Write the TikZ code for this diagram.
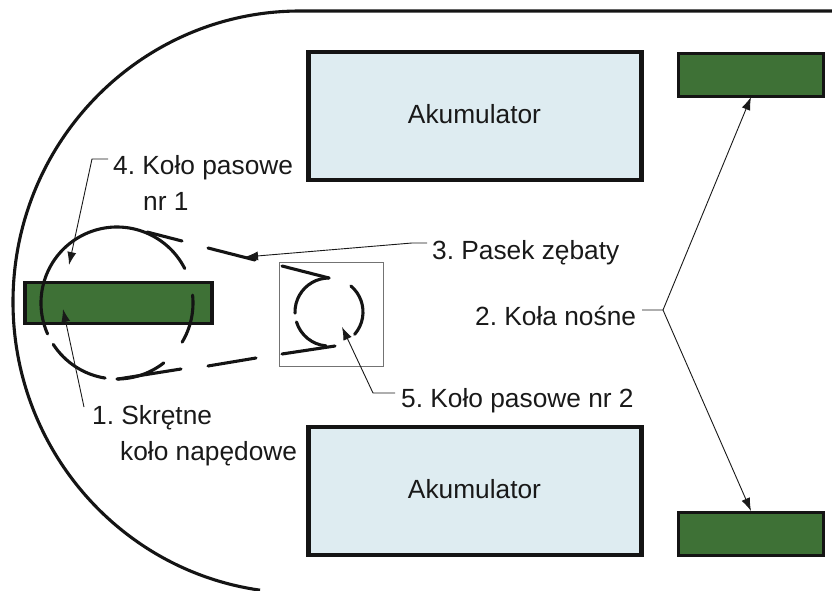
\documentclass[tikz,border=0pt]{standalone}
\usepackage{fontspec}
\setmainfont{Liberation Sans}
\usetikzlibrary{arrows.meta}
\definecolor{akublue}{RGB}{222,236,241}
\definecolor{wheelgreen}{RGB}{62,113,54}
\tikzset{
  battery/.style={draw=black!92,line width=4.2pt,fill=akublue,inner sep=0pt},
  wheel/.style={draw=black!92,line width=3.2pt,fill=wheelgreen,inner sep=0pt},
  belt/.style={line width=3.1pt,black!92,line cap=round},
  leader/.style={line width=0.9pt,black!90,-{Latex[length=13pt,width=9pt]}},
  label/.style={font=\fontsize{26.3}{27}\selectfont,anchor=base west,inner sep=0pt,text=black!90}
}
\begin{document}
\frenchspacing
\begin{tikzpicture}[x=1pt,y=-1pt]
\useasboundingbox (0,0) rectangle (832,591);
% chassis outline
\draw[line width=3.1pt,black!92] (832,11) -- (300,11) arc[start angle=-90,end angle=-262,x radius=287,y radius=291];
% batteries
\node[battery,minimum width=333pt,minimum height=128pt] (batA) at (475,116) {};
\node[battery,minimum width=333pt,minimum height=128pt] (batB) at (475,491) {};
\node[label,anchor=base] at (474.5,124) {Akumulator};
\node[label,anchor=base] at (474.5,498) {Akumulator};
% wheels
\node[wheel,minimum width=145pt,minimum height=43pt] (wheelA) at (751,75) {};
\node[wheel,minimum width=145pt,minimum height=43pt] (wheelB) at (751,534) {};
\node[wheel,minimum width=187pt,minimum height=41pt] (drive) at (118.5,303) {};
% pulley 1
\coordinate (pa) at (117,303);
\draw[belt] (pa) ++(-204:76) arc[start angle=-204,end angle=-27,radius=76];
\draw[belt] (pa) ++(-6:76) arc[start angle=-6,end angle=31,radius=76];
\draw[belt] (pa) ++(-213:76) arc[start angle=-213,end angle=-261,radius=76];
\draw[belt] (pa) ++(-270:76) arc[start angle=-270,end angle=-308,radius=76];
% belt
\coordinate (ba) at (147,232);
\coordinate (bb) at (182,241);
\coordinate (bc) at (208,248);
\coordinate (bd) at (255,260);
\coordinate (be) at (118,379);
\coordinate (bf) at (181,369);
\coordinate (bg) at (208,366);
\coordinate (bh) at (256,358);
\draw[belt] (ba) -- (bb);
\draw[belt] (bc) -- (bd);
\draw[belt] (be) -- (bf);
\draw[belt] (bg) -- (bh);
% pulley 2
\node[draw=black!55,line width=0.8pt,minimum width=104pt,minimum height=104pt,inner sep=0pt] (boxB) at (331,314) {};
\coordinate (pb) at (329,312);
\draw[belt] (282,266) -- (329,278);
\draw[belt] (pb) ++(-90:34) arc[start angle=-90,end angle=-182,radius=34];
\draw[belt] (pb) ++(-197:34) arc[start angle=-197,end angle=-265,radius=34];
\draw[belt] (282,354) -- (335,346);
\draw[belt] (pb) ++(-50:34) arc[start angle=-50,end angle=41,radius=34];
% labels
\node[label] (t4) at (113,174) {4. Koło pasowe};
\node[label] (t4b) at (143,210) {nr 1};
\node[label] (t3) at (432,259) {3. Pasek zębaty};
\node[label] (t2) at (475,325) {2. Koła nośne};
\node[label] (t5) at (401,407) {5. Koło pasowe nr 2};
\node[label] (t1) at (92,424) {1. Skrętne};
\node[label] (t1b) at (120,460) {koło napędowe};
% leaders
\coordinate (l4) at (108,159);
\coordinate (a4) at (69,265);
\coordinate (l1) at (84,407);
\coordinate (a1) at (63,309);
\coordinate (l3) at (427,243);
\coordinate (a3) at (245,257);
\coordinate (l5) at (395,393);
\coordinate (a5) at (342,327);
\coordinate (l2) at (642,310);
\coordinate (a2) at (751,97);
\coordinate (a6) at (751,511);
\draw[leader] (l4) -- (92,159) -- (a4);
\draw[leader] (l1) -- (a1);
\draw[leader] (l3) -- (412,243) -- (a3);
\draw[leader] (l5) -- (373,393) -- (a5);
\draw[leader] (l2) -- (663,310) -- (a2);
\draw[leader] (663,310) -- (a6);
\end{tikzpicture}
\end{document}
